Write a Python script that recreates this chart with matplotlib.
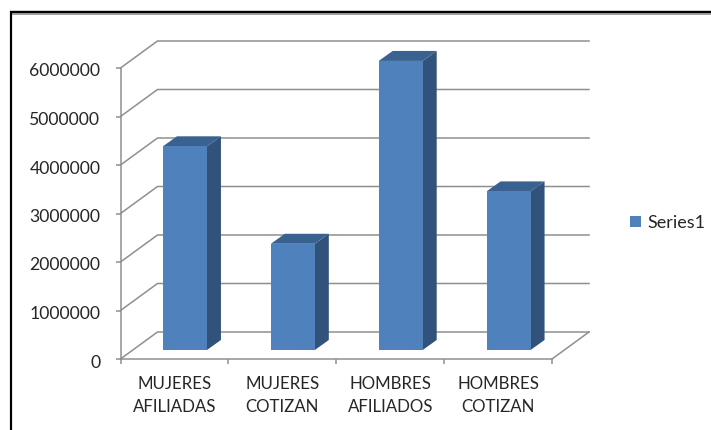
import matplotlib
matplotlib.use("Agg")
import matplotlib.pyplot as plt
from matplotlib.lines import Line2D
from matplotlib.transforms import ScaledTranslation

categories = ["MUJERES\nAFILIADAS", "MUJERES\nCOTIZAN", "HOMBRES\nAFILIADOS", "HOMBRES\nCOTIZAN"]
values = [4200000, 2190000, 5960000, 3270000]
y_ticks = [0, 1000000, 2000000, 3000000, 4000000, 5000000, 6000000]
series_name = "Series1"

W, H = 711, 430
plt.rcParams["font.family"] = ["Lato", "DejaVu Sans"]
fig = plt.figure(figsize=(W / 100, H / 100), dpi=100, facecolor="white")

# front plane of the pseudo-3D plot
L, R, B, T = 120.5, 552, 359, 68
ax = fig.add_axes([L / W, 1 - B / H, (R - L) / W, (B - T) / H])
ax.set_xlim(0, 4)
ax.set_ylim(0, 6000000)
ax.patch.set_alpha(0)
px_x = 4 / (R - L)
px_y = 6000000 / (B - T)

GRID = "#8f8f8f"
DX, DY = 37 * px_x, 27 * px_y            # full floor depth
bar_w = 44 * px_x
bar_dx, bar_dy = 14 * px_x, 10 * px_y    # bar depth
shift_x, off_y = 10.5 * px_x, 9 * px_y   # bar offset from the front edge

for v in y_ticks:
    ax.plot([0, DX, 4 + DX], [v, v + DY, v + DY], color=GRID, lw=1.1,
            clip_on=False, zorder=1, solid_joinstyle="miter")
ax.plot([4, 4 + DX], [0, DY], color=GRID, lw=1.1, clip_on=False, zorder=1)

centres = [i + 0.5 for i in range(len(values))]
FRONT, SIDE, TOP = "#4F81BD", "#30527B", "#3A6291"
for c, v in zip(centres, values):
    x0 = c - bar_w / 2 + shift_x
    x1 = x0 + bar_w
    y0 = off_y
    y1 = off_y + v
    ax.fill([x1, x1 + bar_dx, x1 + bar_dx, x1],
            [y0, y0 + bar_dy, y1 + bar_dy, y1],
            color=SIDE, lw=0, clip_on=False, zorder=3)
    ax.fill([x0, x1, x1 + bar_dx, x0 + bar_dx],
            [y1, y1, y1 + bar_dy, y1 + bar_dy],
            color=TOP, lw=0, clip_on=False, zorder=3)
bars = ax.bar([c + shift_x for c in centres], values, width=bar_w, bottom=off_y,
              color=FRONT, lw=0, label=series_name, zorder=4, clip_on=False)

for s in ("top", "right"):
    ax.spines[s].set_visible(False)
for s in ("left", "bottom"):
    ax.spines[s].set_color(GRID)
    ax.spines[s].set_linewidth(1.1)

ax.set_yticks(y_ticks)
ax.set_yticklabels([str(v) for v in y_ticks], fontsize=12.7, color="#262626")
ax.tick_params(axis="y", length=3.5, width=1.1, color=GRID, pad=11)
down = ScaledTranslation(0, -2 / 100, fig.dpi_scale_trans)
for lab in ax.get_yticklabels():
    lab.set_transform(lab.get_transform() + down)
ax.set_xticks(range(5))
ax.set_xticklabels([])
ax.tick_params(axis="x", which="major", length=3.5, width=1.1, color=GRID)
ax.set_xticks(centres, minor=True)
ax.set_xticklabels(categories, minor=True, fontsize=12.2, color="#262626", linespacing=1.55)
ax.tick_params(axis="x", which="minor", length=0, pad=12)

ax.legend(handles=[bars], loc="center left", bbox_to_anchor=(630 / W, 1 - 223 / H),
          bbox_transform=fig.transFigure, frameon=False, fontsize=13,
          handlelength=0.62, handleheight=0.62, handletextpad=0.35, borderpad=0, borderaxespad=0,
          labelcolor="#262626")

# outer frame (cropped at right and bottom)
def px_line(xs, ys, color, lw):
    fig.add_artist(Line2D([x / W for x in xs], [1 - y / H for y in ys],
                          color=color, lw=lw * 0.72, solid_capstyle="butt"))
px_line([10.5, 10.5], [11, 430], "#000000", 2.2)
px_line([9.5, 711], [12.2, 12.2], "#000000", 2.4)
px_line([11.6, 711], [14.2, 14.2], "#8a8a8a", 1.6)

fig.savefig("out.png", dpi=100, facecolor="white")
